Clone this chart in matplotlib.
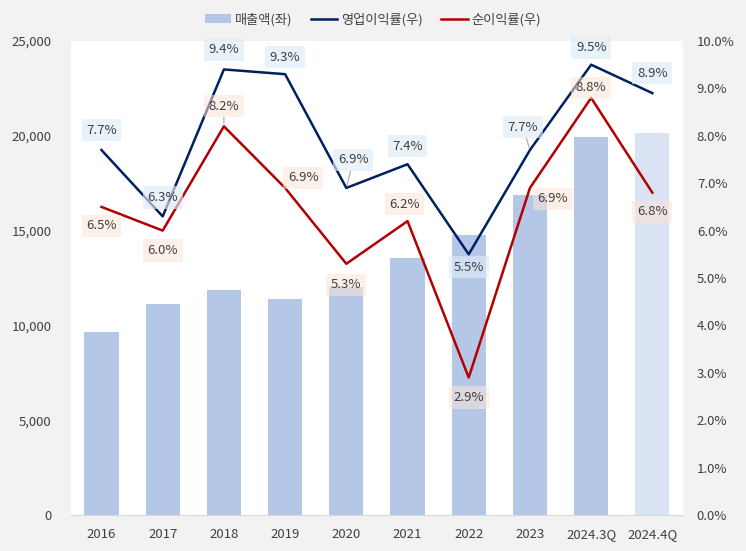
import matplotlib.pyplot as plt
import numpy as np

plt.rcParams['font.family'] = ['Noto Sans CJK KR', 'DejaVu Sans']

years = ["2016", "2017", "2018", "2019", "2020", "2021", "2022", "2023", "2024.3Q", "2024.4Q"]
sales = [9650, 11150, 11850, 11400, 12000, 13550, 14750, 16900, 19950, 20150]
op_margin = [7.7, 6.3, 9.4, 9.3, 6.9, 7.4, 5.5, 7.7, 9.5, 8.9]
net_margin = [6.5, 6.0, 8.2, 6.9, 5.3, 6.2, 2.9, 6.9, 8.8, 6.8]

# label offsets in pixels (dx, dy), and which labels get a leader line
op_off = [(0, 20), (0, 19), (0, 20), (0, 17), (7, 28), (0, 18), (0, -13), (-7, 23), (0, 17), (0, 20)]
net_off = [(0, -19), (0, -20), (0, 20), (18, 10), (0, -21), (-3, 17), (0, -20), (23, -11), (0, 10), (0, -19)]
op_lead = [False, False, False, False, True, False, False, True, False, False]
net_lead = [False, False, True, False, False, False, False, False, False, False]

bar_colors = ["#b4c7e7"] * 9 + ["#dae3f3"]
text_col = "#404040"

fig = plt.figure(figsize=(7.46, 5.51), dpi=100)
fig.patch.set_facecolor("#f2f2f2")
ax = fig.add_axes([0.095, 0.0653, 0.8205, 0.8603])
ax.set_facecolor("white")
x = np.arange(len(years))

bars = ax.bar(x, sales, width=0.56, color=bar_colors, zorder=1, label="매출액(좌)")
ax.set_ylim(0, 25000)
ax.set_xlim(-0.5, len(years) - 0.5)
ax.set_yticks(range(0, 25001, 5000))
ax.set_yticklabels([f"{v:,}" for v in range(0, 25001, 5000)])
ax.set_xticks(x)
ax.set_xticklabels(years)

ax2 = ax.twinx()
ax2.set_ylim(0, 10)
ax2.set_yticks(range(0, 11))
ax2.set_yticklabels([f"{v:.1f}%" for v in range(0, 11)])
l1, = ax2.plot(x, op_margin, color="#002060", lw=1.8, label="영업이익률(우)", zorder=3)
l2, = ax2.plot(x, net_margin, color="#b40000", lw=1.8, label="순이익률(우)", zorder=3)

for a in (ax, ax2):
    for s in a.spines.values():
        s.set_visible(False)
    a.tick_params(length=0, colors=text_col, labelsize=9.5)
ax.spines["bottom"].set_visible(True)
ax.spines["bottom"].set_color("#d9d9d9")
ax.tick_params(axis="x", pad=9)
ax.tick_params(axis="y", pad=14)
ax2.tick_params(axis="y", pad=10)

lead = dict(arrowstyle="-", color="#a6a6a6", lw=0.8, shrinkA=0, shrinkB=2)
for i in range(len(years)):
    ax2.annotate(f"{op_margin[i]:.1f}%", (x[i], op_margin[i]), xytext=op_off[i],
                 textcoords="offset pixels", ha="center", va="center", fontsize=9.5,
                 color=text_col, zorder=5,
                 arrowprops=lead if op_lead[i] else None,
                 bbox=dict(boxstyle="square,pad=0.35", fc="#deebf7", ec="none", alpha=0.65))
    ax2.annotate(f"{net_margin[i]:.1f}%", (x[i], net_margin[i]), xytext=net_off[i],
                 textcoords="offset pixels", ha="center", va="center", fontsize=9.5,
                 color=text_col, zorder=5,
                 arrowprops=lead if net_lead[i] else None,
                 bbox=dict(boxstyle="square,pad=0.35", fc="#fbe5d6", ec="none", alpha=0.55))

fig.legend(handles=[bars, l1, l2], loc="upper center", bbox_to_anchor=(0.5, 0.998),
           ncol=3, frameon=False, fontsize=9.5, labelcolor=text_col,
           handlelength=2.0, columnspacing=1.4, handletextpad=0.3)

plt.savefig("out.png", dpi=100, facecolor=fig.get_facecolor())
